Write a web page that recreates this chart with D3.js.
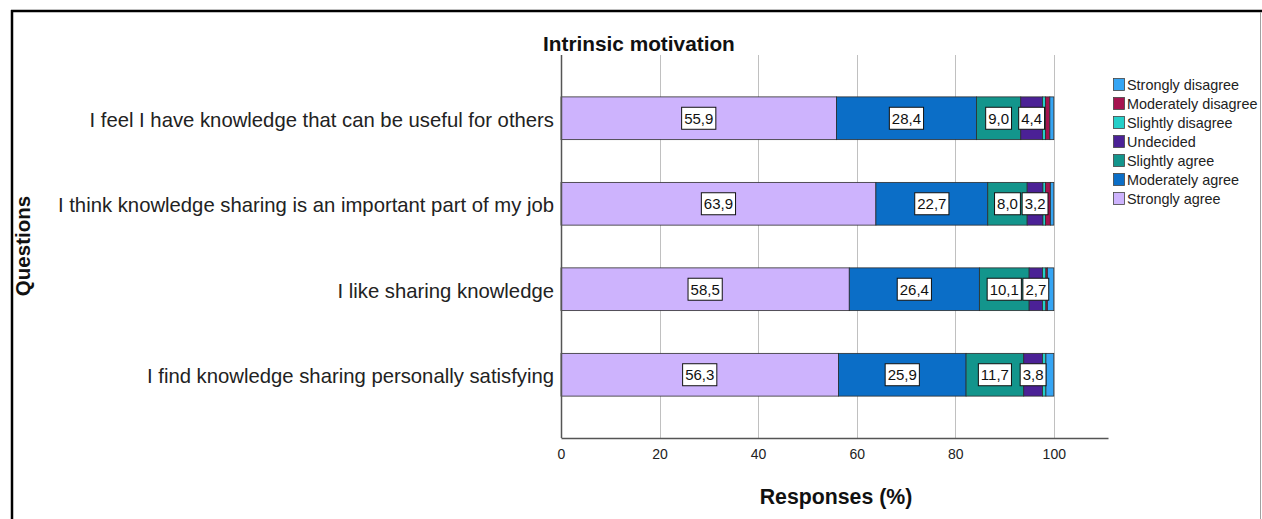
<!DOCTYPE html>
<html>
<head>
<meta charset="utf-8">
<script src="https://cdn.jsdelivr.net/npm/d3@7"></script>
<style>
  html, body { margin: 0; padding: 0; background: #fff; }
  svg { display: block; font-family: "Liberation Sans", Arial, sans-serif; }
</style>
</head>
<body>
<svg id="chart" width="1262" height="519"></svg>
<script>
// Questions, top to bottom
const questions = [
  "I feel I have knowledge that can be useful for others",
  "I think knowledge sharing is an important part of my job",
  "I like sharing knowledge",
  "I find knowledge sharing personally satisfying"
];

// Response categories in stacking order (left to right)
const responseKeys = [
  "Strongly agree", "Moderately agree", "Slightly agree", "Undecided",
  "Slightly disagree", "Moderately disagree", "Strongly disagree"
];

// Percentages per question, one array per response category
const stronglyAgree      = [55.9, 63.9, 58.5, 56.3];
const moderatelyAgree    = [28.4, 22.7, 26.4, 25.9];
const slightlyAgree      = [9.0, 8.0, 10.1, 11.7];
const undecided          = [4.4, 3.2, 2.7, 3.8];
const slightlyDisagree   = [0.6, 0.5, 0.7, 0.7];
const moderatelyDisagree = [0.9, 1.0, 0.3, 0.0];
const stronglyDisagree   = [0.8, 0.7, 1.3, 1.6];

// Categories whose values are written on the bars
const labelledKeys = ["Strongly agree", "Moderately agree", "Slightly agree", "Undecided"];

// Legend order (top to bottom)
const legendKeys = [
  "Strongly disagree", "Moderately disagree", "Slightly disagree", "Undecided",
  "Slightly agree", "Moderately agree", "Strongly agree"
];

const xTicks = [0, 20, 40, 60, 80, 100];

const colors = {
  "Strongly disagree": "#35a5f4",
  "Moderately disagree": "#a5134f",
  "Slightly disagree": "#25cfc9",
  "Undecided": "#4b2196",
  "Slightly agree": "#13958c",
  "Moderately agree": "#0b6ec7",
  "Strongly agree": "#cdb3fd"
};

const seriesValues = {
  "Strongly agree": stronglyAgree,
  "Moderately agree": moderatelyAgree,
  "Slightly agree": slightlyAgree,
  "Undecided": undecided,
  "Slightly disagree": slightlyDisagree,
  "Moderately disagree": moderatelyDisagree,
  "Strongly disagree": stronglyDisagree
};

const table = questions.map((q, i) => {
  const row = { question: q };
  responseKeys.forEach(k => row[k] = seriesValues[k][i]);
  return row;
});

const svg = d3.select("#chart");

// Frame
svg.append("line").attr("x1", 11).attr("x2", 1262).attr("y1", 11).attr("y2", 11)
  .attr("stroke", "#000").attr("stroke-width", 2.5);
svg.append("line").attr("x1", 12).attr("x2", 12).attr("y1", 10).attr("y2", 519)
  .attr("stroke", "#000").attr("stroke-width", 2.5);
svg.append("line").attr("x1", 1260.5).attr("x2", 1260.5).attr("y1", 12).attr("y2", 519)
  .attr("stroke", "#a0a0a0").attr("stroke-width", 1);

const plot = { left: 561, right: 1108, top: 55, bottom: 438 };

const x = d3.scaleLinear().domain([0, 111]).range([plot.left, plot.right]);
const y = d3.scaleBand().domain(questions)
  .range([plot.top, plot.bottom]).paddingInner(0.5).paddingOuter(0.49);

// Vertical grid lines
svg.append("g").selectAll("line")
  .data(xTicks.filter(t => t > 0))
  .join("line")
  .attr("x1", d => Math.round(x(d)) + 0.5).attr("x2", d => Math.round(x(d)) + 0.5)
  .attr("y1", plot.top).attr("y2", plot.bottom)
  .attr("stroke", "#c0c0c0").attr("stroke-width", 1);

// Stacked bars
const stack = d3.stack().keys(responseKeys);
const layers = stack(table);

const layerG = svg.append("g").selectAll("g")
  .data(layers)
  .join("g")
  .attr("fill", d => colors[d.key]);

layerG.selectAll("rect")
  .data(d => d)
  .join("rect")
  .attr("x", d => x(d[0]))
  .attr("y", d => y(d.data.question))
  .attr("width", d => Math.max(0, x(d[1]) - x(d[0])))
  .attr("height", y.bandwidth())
  .attr("stroke", "#2d2d2d")
  .attr("stroke-width", 0.8);

// Axes
const xAxis = d3.axisBottom(x).tickValues(xTicks).tickSize(0).tickPadding(11);
const gx = svg.append("g").attr("transform", `translate(0,${plot.bottom})`).call(xAxis);
gx.select(".domain").attr("stroke", "#555").attr("stroke-width", 1.5);
gx.selectAll("text").attr("font-size", 14).attr("fill", "#222")
  .attr("font-family", "'Liberation Sans', Arial, sans-serif");

const yAxis = d3.axisLeft(y).tickSize(0).tickPadding(7);
const gy = svg.append("g").attr("transform", `translate(${plot.left},0)`).call(yAxis);
gy.select(".domain").attr("stroke", "#555").attr("stroke-width", 1.5)
  .attr("d", `M0.5,${plot.top}V${plot.bottom}`);
gy.selectAll("text").attr("font-size", 20.3).attr("fill", "#222").attr("dy", "0.42em")
  .attr("font-family", "'Liberation Sans', Arial, sans-serif");

// Value labels in white boxes
const fmt = v => d3.format(".1f")(v).replace(".", ",");
const labelData = [];
layers.filter(l => labelledKeys.includes(l.key)).forEach(l => {
  l.forEach(d => labelData.push({ cx: (x(d[0]) + x(d[1])) / 2, cy: y(d.data.question) + y.bandwidth() / 2, text: fmt(d.data[l.key]) }));
});

const labelG = svg.append("g").selectAll("g")
  .data(labelData)
  .join("g")
  .attr("transform", d => `translate(${d.cx},${d.cy})`);

labelG.append("text")
  .attr("text-anchor", "middle")
  .attr("dy", "0.38em")
  .attr("font-size", 15)
  .attr("fill", "#111")
  .text(d => d.text)
  .each(function () {
    const bb = this.getBBox();
    d3.select(this.parentNode).insert("rect", "text")
      .attr("x", bb.x - 2.5).attr("y", -11)
      .attr("width", bb.width + 5).attr("height", 22)
      .attr("fill", "#fff").attr("stroke", "#111").attr("stroke-width", 1);
  });

// Title
svg.append("text").attr("x", 543).attr("y", 51)
  .attr("font-size", 20.8).attr("font-weight", "bold").attr("fill", "#111")
  .text("Intrinsic motivation");

// Axis titles
svg.append("text").attr("x", 836).attr("y", 504)
  .attr("text-anchor", "middle").attr("font-size", 21.3).attr("font-weight", "bold").attr("fill", "#111")
  .text("Responses (%)");

svg.append("text")
  .attr("transform", `translate(30,246) rotate(-90)`)
  .attr("text-anchor", "middle").attr("font-size", 20.5).attr("font-weight", "bold").attr("fill", "#111")
  .text("Questions");

// Legend
const legend = svg.append("g").attr("transform", "translate(1113,78)");
const li = legend.selectAll("g").data(legendKeys).join("g")
  .attr("transform", (d, i) => `translate(0,${i * 19})`);
li.append("rect").attr("x", 0.5).attr("y", 0.5).attr("width", 11).attr("height", 12)
  .attr("fill", d => colors[d]).attr("stroke", "#444").attr("stroke-width", 0.8);
li.append("text").attr("x", 14).attr("y", 11.5)
  .attr("font-size", 14.4).attr("fill", "#222").text(d => d);
</script>
</body>
</html>
